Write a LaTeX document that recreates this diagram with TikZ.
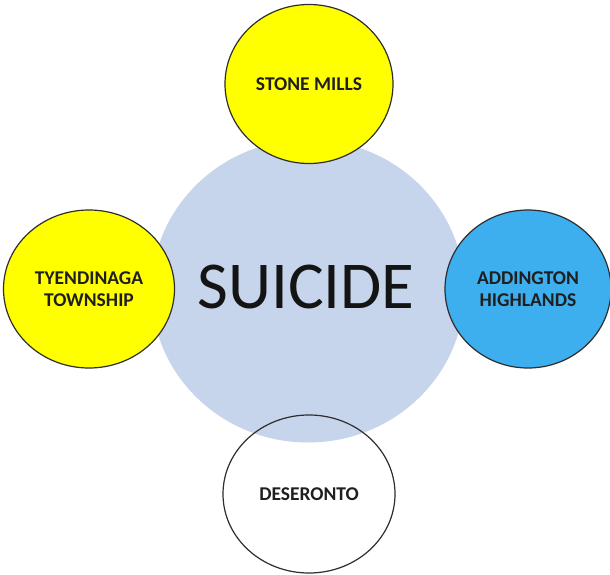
\documentclass[tikz,border=0pt]{standalone}
\usepackage{fontspec}
\setmainfont{Carlito}
\usetikzlibrary{shapes.geometric}
\definecolor{hubblue}{HTML}{C6D4EC}
\definecolor{sunyellow}{HTML}{FFFF00}
\definecolor{skyblue}{HTML}{3DAEEE}
\definecolor{rimgray}{HTML}{2E2E2E}
\tikzset{
  hub/.style={ellipse, fill=hubblue, minimum width=313pt, minimum height=303pt, inner sep=0pt},
  area/.style={ellipse, draw=rimgray, line width=1.2pt, inner sep=0pt,
    font=\bfseries\fontsize{19.5}{22}\selectfont, text=black!88, align=center},
  hubtext/.style={font=\fontsize{67}{72}\selectfont, text=black!92}
}
\begin{document}
\begin{tikzpicture}[x=1pt, y=-1pt]
  \useasboundingbox (0,0) rectangle (610,575);
  \fill[white] (0,0) rectangle (610,575);
  % central theme
  \node[hub] (hub) at (308,291) {};
  \node[hubtext] (title) at (306,287) {SUICIDE};
  % surrounding areas
  \node[area, fill=sunyellow, minimum width=168pt, minimum height=159pt] (stone) at (309,84) {STONE MILLS};
  \node[area, fill=sunyellow, minimum width=171pt, minimum height=158pt] (tyend) at (89,289) {TYENDINAGA\\TOWNSHIP};
  \node[area, fill=skyblue, minimum width=166pt, minimum height=158pt] (adding) at (528,289) {ADDINGTON\\HIGHLANDS};
  \node[area, minimum width=172pt, minimum height=158pt] (deser) at (309,494) {DESERONTO};
\end{tikzpicture}
\end{document}
